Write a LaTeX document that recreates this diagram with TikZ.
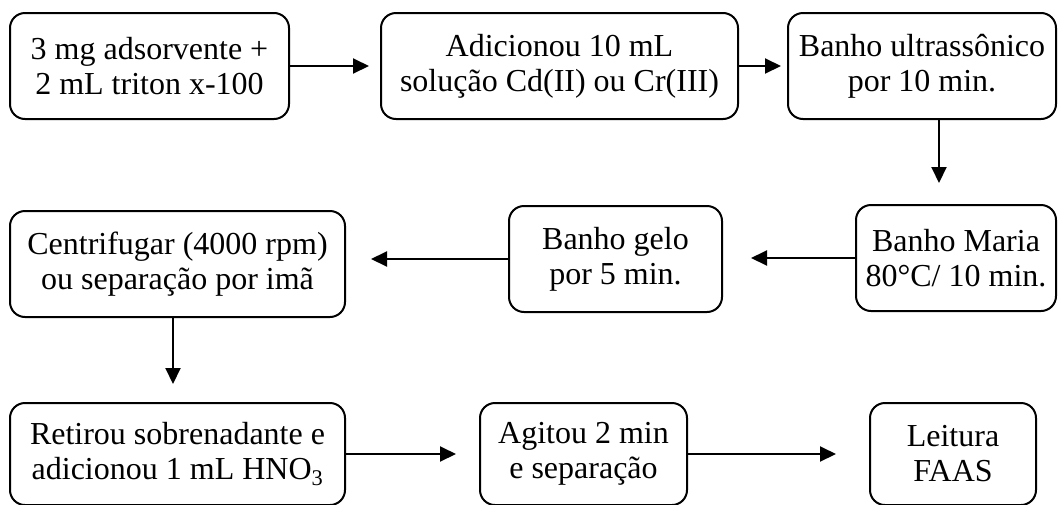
\documentclass[tikz,border=0pt]{standalone}
\usepackage{fontspec}
\setmainfont{Liberation Serif}
\usetikzlibrary{arrows.meta}
\begin{document}
\begin{tikzpicture}[x=1pt,y=-1pt,
  stepbox/.style={draw, line width=2pt, rounded corners=15pt, align=center, inner sep=0pt,
    font=\fontsize{32}{35}\selectfont},
  arr/.style={line width=2pt, -{Triangle[length=16pt,width=15pt]}}]
\useasboundingbox (0,0) rectangle (1058,504);
% row 1
\node[stepbox, minimum width=279pt, minimum height=106pt] (b1) at (149.5,66) {3 mg adsorvente +\\2 mL triton x-100};
\node[stepbox, minimum width=357pt, minimum height=106pt] (b2) at (559.5,66) {Adicionou 10 mL\\solução Cd(II) ou Cr(III)};
\node[stepbox, minimum width=268pt, minimum height=106pt] (b3) at (922,66) {Banho ultrassônico\\por 10 min.};
% row 2
\node[stepbox, minimum width=200pt, minimum height=106pt] (maria) at (956,258) {Banho Maria\\80°C/ 10 min.};
\node[stepbox, minimum width=213pt, minimum height=106pt] (gelo) at (615.5,259) {Banho gelo\\por 5 min.};
\node[stepbox, minimum width=335pt, minimum height=106pt] (cent) at (177.5,264) {Centrifugar (4000 rpm)\\ou separação por imã};
% row 3
\node[stepbox, minimum width=335pt, minimum height=102pt] (ret) at (177.5,454) {Retirou sobrenadante e\\adicionou 1 mL HNO\textsubscript{3}};
\node[stepbox, minimum width=207pt, minimum height=102pt] (agit) at (583.5,454) {Agitou 2 min\\e separação};
\node[stepbox, minimum width=166pt, minimum height=102pt] (leit) at (953,454) {Leitura\\FAAS};
% connectors
\draw[arr, shorten >=11pt] (b1.east) -- (b2.west);
\draw[arr, shorten >=6pt] (b2.east) -- (b3.west);
\draw[arr, shorten >=21pt] ([xshift=17pt]b3.south) -- ([xshift=17pt]b3.south |- maria.north);
\draw[arr, shorten >=28pt] (maria.west) -- (maria.west -| gelo.east);
\draw[arr, shorten >=25pt] (gelo.west) -- (gelo.west -| cent.east);
\draw[arr, shorten >=18pt] ([xshift=-4.5pt]cent.south) -- ([xshift=-4.5pt]cent.south |- ret.north);
\draw[arr, shorten >=23pt] (ret.east) -- (agit.west);
\draw[arr, shorten >=33pt] (agit.east) -- (leit.west);
\end{tikzpicture}
\end{document}
